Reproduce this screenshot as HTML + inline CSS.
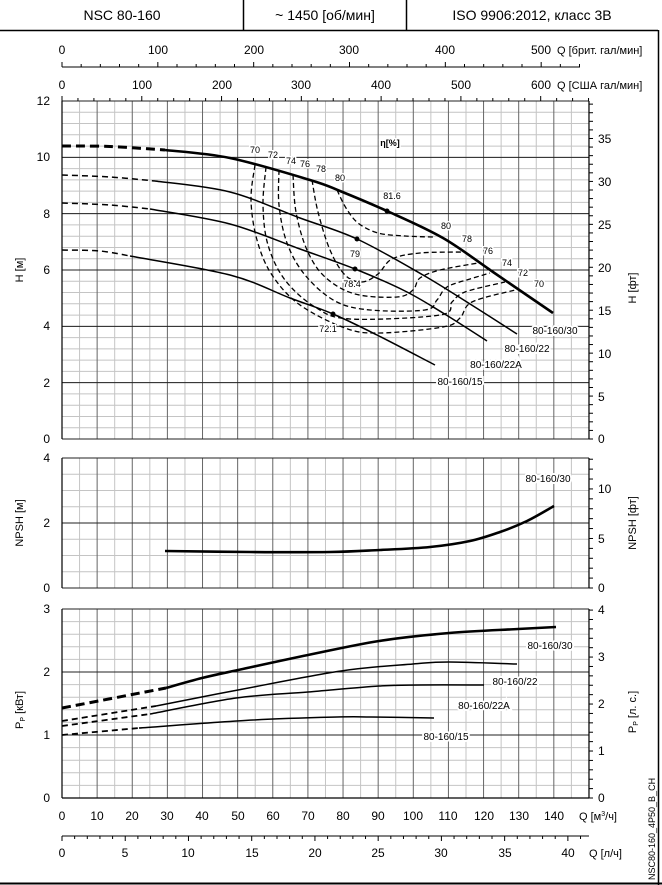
<!DOCTYPE html>
<html><head><meta charset="utf-8"><style>
body{margin:0;background:#fff}
svg{display:block;font-family:"Liberation Sans",sans-serif}
.t{font-size:12px;fill:#000}
.s{font-size:9px;fill:#000}
.c{font-size:10px;fill:#000}
</style></head><body>
<svg id="g" width="662" height="885" viewBox="0 0 662 885" xmlns="http://www.w3.org/2000/svg">
<g id="grid"></g>
<line x1="0" y1="30.5" x2="658" y2="30.5" stroke="#000" stroke-width="1.5"/>
<line x1="243.5" y1="0" x2="243.5" y2="30" stroke="#000" stroke-width="1.5"/>
<line x1="406.5" y1="0" x2="406.5" y2="30" stroke="#000" stroke-width="1.5"/>
<line x1="658.5" y1="30" x2="658.5" y2="885" stroke="#000" stroke-width="1.5"/>
<line x1="0" y1="883.5" x2="662" y2="883.5" stroke="#000" stroke-width="2"/>
<text x="122" y="20" font-size="14" text-anchor="middle">NSC 80-160</text>
<text x="325" y="20" font-size="14" text-anchor="middle">~ 1450 [об/мин]</text>
<text x="532" y="20" font-size="14" text-anchor="middle">ISO 9906:2012, класс 3B</text>

<g class="t" text-anchor="middle">
<text x="62" y="54">0</text><text x="158" y="54">100</text><text x="254" y="54">200</text><text x="349" y="54">300</text><text x="445" y="54">400</text><text x="541" y="54">500</text>
<text x="62" y="89">0</text><text x="142" y="89">100</text><text x="222" y="89">200</text><text x="301" y="89">300</text><text x="381" y="89">400</text><text x="461" y="89">500</text><text x="541" y="89">600</text>
</g>
<text x="557" y="54" font-size="11">Q [брит. гал/мин]</text>
<text x="557" y="89" font-size="11">Q [США гал/мин]</text>

<g class="t" text-anchor="end">
<text x="50" y="105">12</text><text x="50" y="161">10</text><text x="50" y="218">8</text><text x="50" y="274">6</text><text x="50" y="330">4</text><text x="50" y="387">2</text><text x="50" y="443">0</text>
<text x="50" y="462">4</text><text x="50" y="527">2</text><text x="50" y="592">0</text>
<text x="50" y="613">3</text><text x="50" y="676">2</text><text x="50" y="739">1</text><text x="50" y="802">0</text>
</g>
<g class="t" text-anchor="start">
<text x="598" y="143">35</text><text x="598" y="186">30</text><text x="598" y="229">25</text><text x="598" y="272">20</text><text x="598" y="315">15</text><text x="598" y="358">10</text><text x="598" y="401">5</text><text x="598" y="443">0</text>
<text x="598" y="493">10</text><text x="598" y="543">5</text><text x="598" y="592">0</text>
<text x="598" y="614">4</text><text x="598" y="661">3</text><text x="598" y="708">2</text><text x="598" y="755">1</text><text x="598" y="802">0</text>
</g>
<g font-size="11">
<text transform="translate(23,270) rotate(-90)" text-anchor="middle">H [м]</text>
<text transform="translate(23,523) rotate(-90)" text-anchor="middle">NPSH [м]</text>
<text transform="translate(23,710) rotate(-90)" text-anchor="middle">P<tspan font-size="7" dy="2">P</tspan><tspan dy="-2"> [кВт]</tspan></text>
<text transform="translate(636,288) rotate(-90)" text-anchor="middle">H [фт]</text>
<text transform="translate(636,523) rotate(-90)" text-anchor="middle">NPSH [фт]</text>
<text transform="translate(636,712) rotate(-90)" text-anchor="middle">P<tspan font-size="7" dy="2">P</tspan><tspan dy="-2"> [л. с.]</tspan></text>
<text transform="translate(655,880) rotate(-90)" font-size="9">NSC80-160_4P50_B_CH</text>
</g>

<g class="t" text-anchor="middle">
<text x="62" y="820">0</text><text x="97" y="820">10</text><text x="132" y="820">20</text><text x="167" y="820">30</text><text x="202" y="820">40</text><text x="238" y="820">50</text><text x="273" y="820">60</text><text x="308" y="820">70</text><text x="343" y="820">80</text><text x="378" y="820">90</text><text x="413" y="820">100</text><text x="448" y="820">110</text><text x="484" y="820">120</text><text x="519" y="820">130</text><text x="554" y="820">140</text>
<text x="62" y="857">0</text><text x="125" y="857">5</text><text x="188" y="857">10</text><text x="252" y="857">15</text><text x="315" y="857">20</text><text x="378" y="857">25</text><text x="441" y="857">30</text><text x="505" y="857">35</text><text x="568" y="857">40</text>
</g>
<text x="579" y="820" font-size="11">Q [м<tspan font-size="7" dy="-4">3</tspan><tspan dy="4">/ч]</tspan></text>
<text x="589" y="857" font-size="11">Q [л/ч]</text>

<g id="curves" fill="none" stroke="#000"></g>
<g fill="#000"><circle cx="387" cy="211" r="2.5"/><circle cx="357" cy="239" r="2.5"/><circle cx="355" cy="269" r="2.5"/><circle cx="333" cy="314" r="2.5"/></g>
<g class="s" text-anchor="middle" stroke="#fff" stroke-width="3" paint-order="stroke">
<text x="255" y="153">70</text><text x="273" y="158">72</text><text x="291" y="164">74</text><text x="305" y="167">76</text><text x="321" y="172">78</text><text x="340" y="181">80</text>
<text x="392" y="199">81.6</text><text x="446" y="229">80</text><text x="467" y="242">78</text><text x="488" y="254">76</text><text x="507" y="266">74</text><text x="523" y="276">72</text><text x="539" y="287">70</text>
<text x="355" y="257">79</text><text x="352" y="287">78.4</text><text x="328" y="332">72.1</text>
<text x="390" y="146" font-weight="bold">η[%]</text>
</g>
<g class="c" text-anchor="middle" stroke="#fff" stroke-width="4" paint-order="stroke">
<text x="555" y="334">80-160/30</text><text x="527" y="352">80-160/22</text><text x="496" y="368">80-160/22A</text><text x="460" y="385">80-160/15</text>
<text x="548" y="482">80-160/30</text>
<text x="550" y="649">80-160/30</text><text x="515" y="685">80-160/22</text><text x="484" y="709">80-160/22A</text><text x="446" y="740">80-160/15</text>
</g>
</svg>
<script>
var g=document.getElementById('grid'),NS='http://www.w3.org/2000/svg';
function L(x1,y1,x2,y2,c,w){var l=document.createElementNS(NS,'line');l.setAttribute('x1',x1);l.setAttribute('y1',y1);l.setAttribute('x2',x2);l.setAttribute('y2',y2);l.setAttribute('stroke',c);l.setAttribute('stroke-width',w||1);g.appendChild(l);}
var X0=62,K=3.513,XR=589;
function panel(yt,yb,n,major){
  var ph=(yb-yt)/n;
  for(var i=0;i<=n;i++){var y=yb-i*ph;L(X0,y,XR,y,'#c4c4c4',1);}
  for(var q=0;q<=150;q+=5){var x=X0+q*K;L(x,yt,x,yb,q%10?'#c4c4c4':'#666',1);}
  var mh=(yb-yt)/major;
  for(var i=0;i<=major;i++){var y=yb-i*mh;L(X0,y,XR,y,'#222',1);}
  L(X0,yt,X0,yb,'#000',1.2);L(XR,yt,XR,yb,'#000',1.2);
}
panel(101,439,30,6);panel(458,588,8,2);panel(609,798,15,3);
function rt(yb,pxu,max,step){for(var v=0;v*pxu<=max+0.1;v+=step){var y=yb-v*pxu;L(XR,y,XR+4,y,'#000',1);}}
rt(439,28.17*0.3048,338,1);rt(588,32.5*0.3048,130,1);rt(798,63*0.7457,189,0.2);
L(X0,67,580,67,'#000',1);
for(var v=0;v<=540;v+=20){var x=X0+v*0.2728*K;if(x>580)break;L(x,67,x,v%100?64:62,'#000',1);}
for(var v=0;v<=660;v+=20){var x=X0+v*0.2271*K;if(x>XR)break;L(x,101,x,v%100?98:96,'#000',1);}
L(X0,836,XR,836,'#000',1);
for(var v=0;v<=42;v+=1){var x=X0+v*3.6*K;if(x>XR)break;L(x,836,x,v%5?839:841,'#000',1);}
L(X0,798,XR,798,'#000',1.2);

var C=document.getElementById('curves');
function cr(p){var d='M'+p[0][0]+','+p[0][1];for(var i=0;i<p.length-1;i++){var p0=p[i-1]||p[i],p1=p[i],p2=p[i+1],p3=p[i+2]||p2;
d+=' C'+(p1[0]+(p2[0]-p0[0])/6).toFixed(1)+','+(p1[1]+(p2[1]-p0[1])/6).toFixed(1)+' '+(p2[0]-(p3[0]-p1[0])/6).toFixed(1)+','+(p2[1]-(p3[1]-p1[1])/6).toFixed(1)+' '+p2[0]+','+p2[1];}return d;}
function P(pts,w,dash){var e=document.createElementNS(NS,'path');e.setAttribute('d',cr(pts));e.setAttribute('stroke-width',w);if(dash)e.setAttribute('stroke-dasharray',dash);C.appendChild(e);}
// H curves
P([[62,146],[110,146.5],[165,150]],3,'9,5');
P([[165,150],[230,158],[310,180],[340,191],[387,211],[443,238],[493,272],[553,313]],2.6);
P([[62,175],[110,177],[155,181]],1.5,'6,4');
P([[155,181],[230,192],[300,218],[357,239],[423,275],[470,304],[517,334]],1.5);
P([[62,203],[110,205],[150,209]],1.5,'6,4');
P([[150,209],[230,224],[300,249],[355,269],[405,291],[443,313],[487,341]],1.5);
P([[62,250],[100,251],[130,256]],1.5,'6,4');
P([[130,256],[230,275],[290,298],[333,314],[377,335],[435,365]],1.5);
// efficiency
var d='5,3';
P([[337,190],[346,208],[358,223],[378,233],[405,236],[433,237]],1.3,d);
P([[312,180],[318,212],[330,250],[345,275],[362,282],[378,274],[392,259],[420,253],[463,252]],1.3,d);
P([[293,175],[296,212],[307,250],[325,277],[355,294],[397,297],[413,290],[420,278],[440,270],[478,263]],1.3,d);
P([[279,170],[279,205],[287,243],[305,275],[335,301],[370,310],[425,310],[437,300],[447,287],[470,279],[490,273]],1.3,d);
P([[266,167],[263,205],[268,245],[285,280],[315,307],[350,319],[440,315],[452,302],[465,292],[505,282]],1.3,d);
P([[255,165],[251,200],[257,240],[272,275],[300,305],[345,328],[380,333],[443,327],[460,318],[472,302],[515,290]],1.3,d);
// NPSH
P([[165,551],[250,552],[330,552],[380,550],[430,547],[470,541],[500,532],[527,521],[554,506]],2.6);
// Power
P([[62,708],[166,688]],3,'9,5');
P([[166,688],[202,678],[238,670],[308,655],[379,641],[449,633],[518,629],[556,627]],2.6);
P([[62,721],[156,706]],1.8,'6,4');
P([[156,706],[238,690],[341,671],[413,664],[449,662],[517,664]],1.5);
P([[62,726],[150,714]],1.8,'6,4');
P([[150,714],[236,698],[308,692],[379,686],[421,685],[484,685]],1.5);
P([[62,735],[139,728]],1.8,'6,4');
P([[139,728],[253,720],[337,717],[371,717],[434,718]],1.5);
</script>
</body></html>
